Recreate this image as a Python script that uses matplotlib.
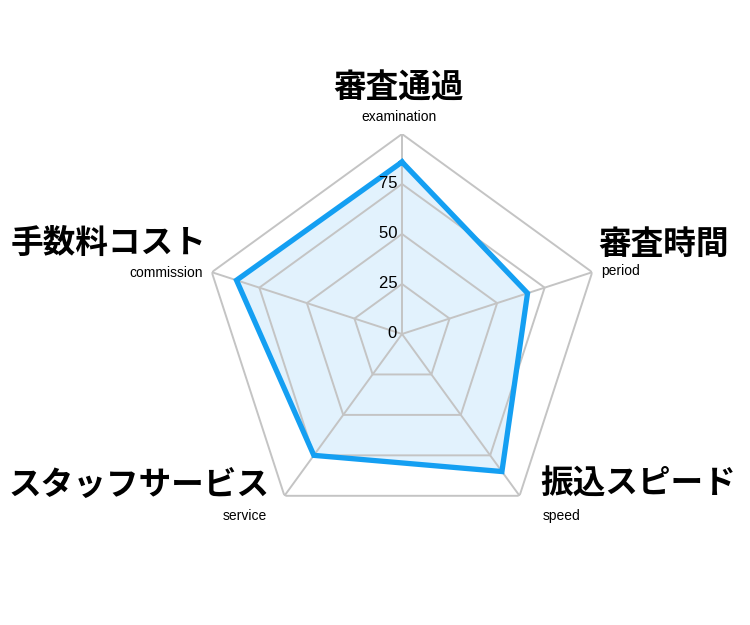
import numpy as np
import matplotlib.pyplot as plt

labels_jp = ['審査通過', '審査時間', '振込スピード', 'スタッフサービス', '手数料コスト']
labels_en = ['examination', 'period', 'speed', 'service', 'commission']
values = [86, 66, 85, 75, 87]
ticks = [0, 25, 50, 75, 100]
tick_labels = ['0', '25', '50', '75']

W, H = 750, 625
fig = plt.figure(figsize=(7.5, 6.25), dpi=100)
cx, cy, R = 402, 334, 200
ax = fig.add_axes([(cx - R) / W, (H - cy - R) / H, 2 * R / W, 2 * R / H], polar=True)
ax.set_theta_zero_location('N')
ax.set_theta_direction(-1)
ax.set_ylim(0, 100)
ax.axis('off')

n = len(values)
angles = np.linspace(0, 2 * np.pi, n, endpoint=False)
closed = np.append(angles, angles[0])

# grid goes over the fill, as in the reference
grid_col = '#c4c4c4'
for t in ticks[1:]:
    ax.plot(closed, [t] * (n + 1), color=grid_col, lw=1.4, zorder=3)
for a in angles:
    ax.plot([a, a], [0, 100], color=grid_col, lw=1.4, zorder=3)

vals = np.append(values, values[0])
ax.fill(closed, vals, color='#e2f2fd', zorder=2)
ax.plot(closed, vals, color='#149ff2', lw=3.8, zorder=4, solid_joinstyle='miter')

for t, s in zip(ticks, tick_labels):
    ax.text(0, t, s + ' ', ha='right', va='center', fontsize=12,
            family='Liberation Sans', zorder=5)

jp = ['Noto Sans CJK JP', 'DejaVu Sans']
# label positions in pixels: (x, y_jp, y_en, ha)
pos = [(399, 88, 117, 'center'),
       (598, 244, 271, 'left'),
       (540, 484, 516, 'left'),
       (270, 486, 516, 'right'),
       (206, 243, 273, 'right')]
for (x, yj, ye, ha), j, e in zip(pos, labels_jp, labels_en):
    fig.text(x / W, 1 - yj / H, j, ha=ha, va='center', fontsize=23.5,
             family=jp, fontweight='bold')
    xe = x + (3 if ha == 'left' else -3 if ha == 'right' else 0)
    fig.text(xe / W, 1 - ye / H, e, ha=ha, va='center', fontsize=10,
             family='Liberation Sans')

fig.savefig('out.png', dpi=100)
